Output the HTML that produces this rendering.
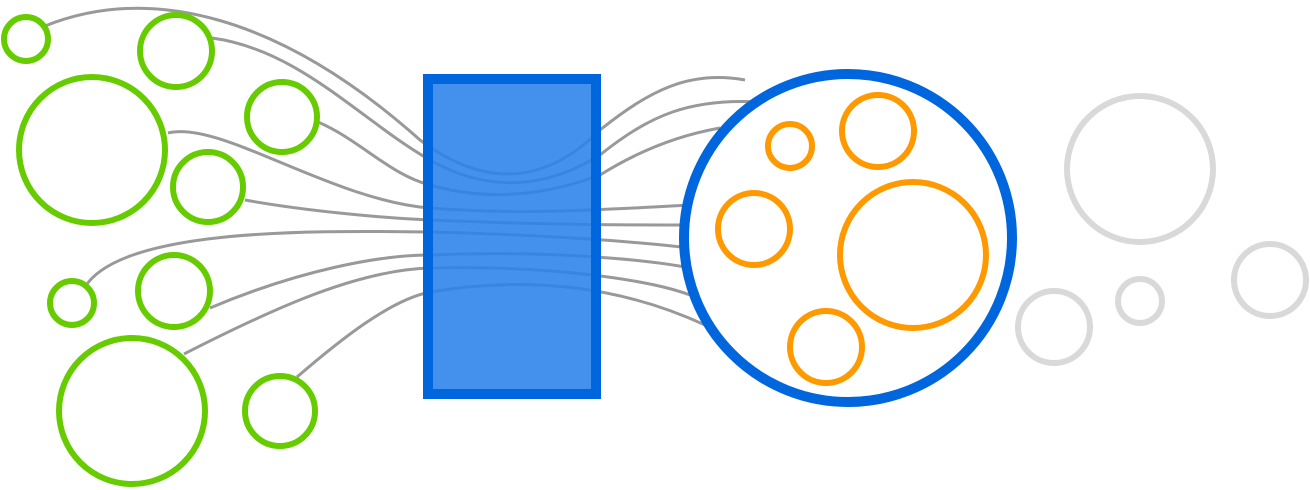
<!DOCTYPE html>
<html><head><meta charset="utf-8"><style>html,body{margin:0;padding:0;background:#fff;}svg{display:block}</style></head>
<body>
<svg width="1310" height="490" viewBox="0 0 1310 490" xmlns="http://www.w3.org/2000/svg">
<g fill="none" stroke="#999" stroke-width="3">
<path d="M45,26 C150,-16 280,15 420,140 C500,200 560,170 600,130 C650,90 690,70 745,80"/>
<path d="M212,38 C300,50 360,120 430,160 C500,200 560,180 600,155 C650,115 690,98 760,102"/>
<path d="M318,122 C360,140 390,175 430,185 C500,205 560,190 600,175 C640,150 680,135 720,128"/>
<path d="M168,133 C220,120 330,200 430,208 C520,215 600,210 690,205"/>
<path d="M245,200 C300,210 380,218 430,220 C550,225 620,225 690,225"/>
<path d="M85,287 C120,230 300,230 430,232 C550,235 640,242 690,248"/>
<path d="M210,308 C300,270 380,255 430,255 C550,250 650,260 690,268"/>
<path d="M184,354 C280,305 360,270 430,268 C550,265 650,280 690,295"/>
<path d="M297,377 C340,340 390,300 430,292 C550,272 640,295 705,325"/>
</g>
<rect x="428" y="79" width="168" height="315" fill="#2a82ea" fill-opacity="0.88" stroke="#0066dd" stroke-width="10"/>
<g fill="none" stroke="#66cc00" stroke-width="6">
<circle cx="26" cy="39" r="22"/>
<circle cx="176" cy="51" r="36"/>
<circle cx="92" cy="150" r="73"/>
<circle cx="282" cy="117" r="35"/>
<circle cx="208" cy="187" r="35"/>
<circle cx="72" cy="303" r="22"/>
<circle cx="174" cy="291" r="36"/>
<circle cx="132" cy="411" r="73"/>
<circle cx="280" cy="411" r="35"/>
</g>
<circle cx="848" cy="238" r="164" fill="#fff" stroke="#0066dd" stroke-width="10"/>
<g fill="none" stroke="#ff9900" stroke-width="6">
<circle cx="790" cy="146" r="22"/>
<circle cx="878" cy="131" r="36"/>
<circle cx="754" cy="229" r="36"/>
<circle cx="913" cy="255" r="73"/>
<circle cx="826" cy="347" r="36"/>
</g>
<g fill="none" stroke="#d9d9d9" stroke-width="6">
<circle cx="1140" cy="169" r="73"/>
<circle cx="1054" cy="327" r="36"/>
<circle cx="1140" cy="301" r="22"/>
<circle cx="1270" cy="280" r="36"/>
</g>
</svg>
</body></html>
